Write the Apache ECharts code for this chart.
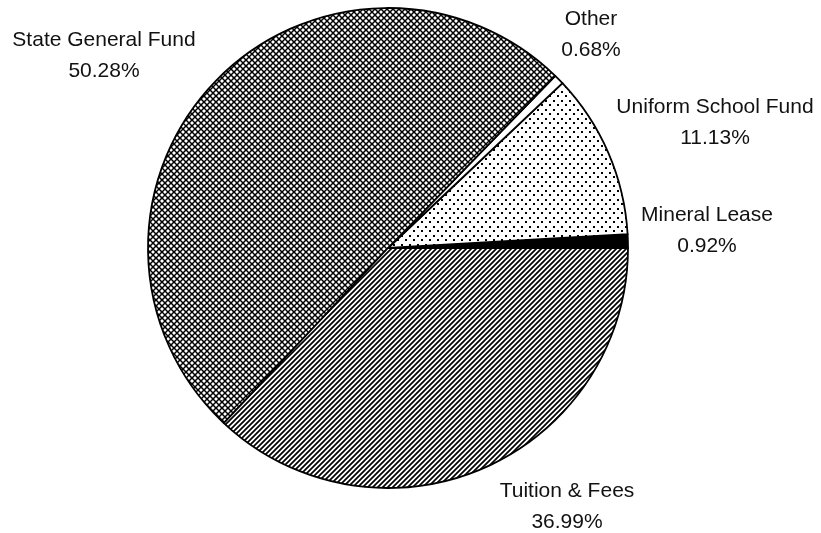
<!DOCTYPE html>
<html>
<head>
<meta charset="utf-8">
<script src="https://cdn.jsdelivr.net/npm/echarts@6/dist/echarts.min.js"></script>
<style>
  html, body { margin: 0; padding: 0; background: #fff; }
  #chart { width: 821px; height: 533px; }
</style>
</head>
<body>
<div id="chart"></div>
<script>
// slices, counter-clockwise from 3 o'clock
const categories = ['Mineral Lease', 'Uniform School Fund', 'Other', 'State General Fund', 'Tuition & Fees']
const shares = [0.92, 11.13, 0.68, 50.28, 36.99]

// where each label's centre sits (pixels)
const labelAnchors = [[707, 231], [715, 123], [591, 35], [104, 56], [567, 507]]

// little canvas tiles for the hatch fills
function makeTile(w, h, draw) {
  const c = document.createElement('canvas')
  c.width = w
  c.height = h
  const ctx = c.getContext('2d')
  ctx.fillStyle = '#fff'
  ctx.fillRect(0, 0, w, h)
  ctx.strokeStyle = '#000'
  ctx.fillStyle = '#000'
  draw(ctx)
  return { image: c, repeat: 'repeat' }
}

const crossHatch = makeTile(6, 6, ctx => {
  ctx.lineWidth = 1.5
  ctx.beginPath()
  ctx.moveTo(-1, -1); ctx.lineTo(7, 7)
  ctx.moveTo(-1, 7); ctx.lineTo(7, -1)
  ctx.stroke()
})

const dots = makeTile(8, 9, ctx => {
  ctx.fillRect(1, 1, 2, 2)
  ctx.fillRect(5, 5, 2, 2)
})

const diagonal = makeTile(5, 5, ctx => {
  ctx.lineWidth = 1.7
  ctx.beginPath()
  ctx.moveTo(-1, 1); ctx.lineTo(1, -1)
  ctx.moveTo(-1, 6); ctx.lineTo(6, -1)
  ctx.moveTo(4, 6); ctx.lineTo(6, 4)
  ctx.stroke()
})

const fills = ['#000', dots, '#fff', crossHatch, diagonal]

const chart = echarts.init(document.getElementById('chart'))

chart.setOption({
  animation: false,
  backgroundColor: '#fff',
  series: [
    {
      type: 'pie',
      center: [388, 248],
      radius: 240,
      startAngle: 0,
      clockwise: false,
      avoidLabelOverlap: false,
      itemStyle: {
        borderColor: '#000',
        borderWidth: 1.8,
      },
      label: {
        show: true,
        position: 'outside',
        color: '#111',
        fontFamily: 'Liberation Sans, Arial, sans-serif',
        fontSize: 21,
        lineHeight: 31,
        align: 'center',
        formatter: p => p.name + '\n' + p.value.toFixed(2) + '%',
      },
      labelLine: { show: false },
      labelLayout: p => ({
        x: labelAnchors[p.dataIndex][0],
        y: labelAnchors[p.dataIndex][1],
        align: 'center',
        verticalAlign: 'middle',
      }),
      emphasis: { disabled: true },
      data: categories.map((name, i) => ({
        name,
        value: shares[i],
        itemStyle: { color: fills[i] },
      })),
    },
  ],
})
</script>
</body>
</html>
